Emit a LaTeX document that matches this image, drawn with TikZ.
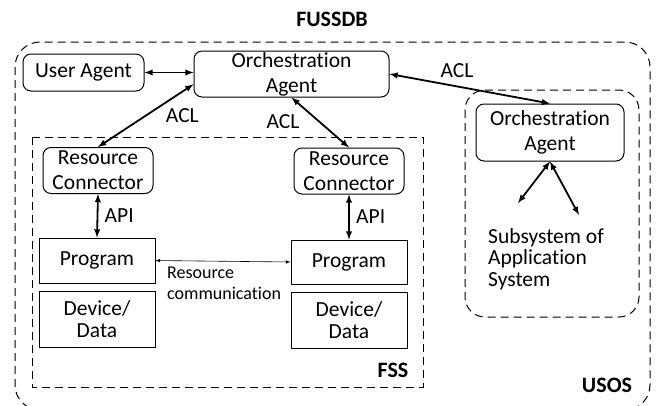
\documentclass[tikz,border=0pt]{standalone}
\usepackage{fontspec}
\setmainfont{Carlito}[Ligatures=NoCommon]

\begin{document}
\begin{tikzpicture}[x=1pt, y=-1pt, font=\fontsize{21.5}{22}\selectfont,
  agentbox/.style={draw, rounded corners=8pt, line width=1pt, align=center, inner sep=0pt},
  plainbox/.style={draw, line width=1pt, align=center, inner sep=0pt},
  zone/.style={draw, line width=1pt, dash pattern=on 8pt off 5pt},
  zonelabel/.style={font=\bfseries\fontsize{22}{22}\selectfont},
  link/.style={line width=1.8pt, <->, >=latex}]

\useasboundingbox (0,0) rectangle (657,405);

% dashed regions
\draw[zone, rounded corners=25pt] (15,42) rectangle (650,410);
\draw[zone, rounded corners=20pt] (465,90) rectangle (639,317);
\draw[zone] (32,137) rectangle (423,387);

\node[zonelabel] (fussdb) at (332,19) {FUSSDB};
\node[zonelabel] (usos) at (607,385) {USOS};
\node[zonelabel] (fss) at (393,370) {FSS};

% agents and resources
\node[agentbox, minimum width=121, minimum height=37] (ua) at (83.5,72.5) {User Agent};
\node[agentbox, minimum width=195, minimum height=46, font=\fontsize{21.5}{25}\selectfont] (orchA) at (291.5,74) {Orchestration\\Agent};
\node[agentbox, minimum width=110, minimum height=46, font=\fontsize{21.5}{25}\selectfont] (rcL) at (98,170.5) {Resource\\Connector};
\node[agentbox, minimum width=110, minimum height=46, font=\fontsize{21.5}{25}\selectfont] (rcR) at (349,171) {Resource\\Connector};
\node[plainbox, minimum width=116, minimum height=45] (progL) at (97,260.5) {Program};
\node[plainbox, minimum width=116, minimum height=44] (progR) at (349,262) {Program};
\node[plainbox, minimum width=116, minimum height=56] (devL) at (97,319) {Device/\\Data};
\node[plainbox, minimum width=116, minimum height=56] (devR) at (349,320) {Device/\\Data};
\node[agentbox, minimum width=148, minimum height=57, font=\fontsize{21.5}{25}\selectfont] (usosA) at (550,132.5) {Orchestration\\Agent};
\node[align=left, anchor=north west, inner sep=0pt, font=\fontsize{21.5}{21.5}\selectfont] (subsys) at (488,228) {Subsystem of\\Application\\System};

\coordinate (subL) at (518,203);
\coordinate (subR) at (579,215);

% connectors
\draw[link] (ua.east) -- (ua.east -| orchA.west);
\draw[link] (orchA.186) -- node[pos=0.5, right=16pt] (aclL) {ACL} (rcL.north);
\draw[link] (orchA.south) -- (rcR.north);
\node (aclM) at (283,122) {ACL};
\draw[link] (orchA.east) -- (usosA.north);
\node (aclR) at (457,71) {ACL};
\draw[link] (rcL.south) -- node[right=3pt] (apiL) {API} (progL.north);
\draw[link] (rcR.south) -- node[right=3pt] (apiR) {API} (progR.north);
\draw[line width=0.6pt, <->, >=latex] (progL.east) -- (progR.west);
\node[align=left, anchor=north west, inner sep=0pt, font=\fontsize{18}{21}\selectfont] (rescomm) at (167,267) {Resource\\communication};
\draw[link] (usosA.south) -- (subL);
\draw[link] (usosA.south) -- (subR);

\end{tikzpicture}
\end{document}
